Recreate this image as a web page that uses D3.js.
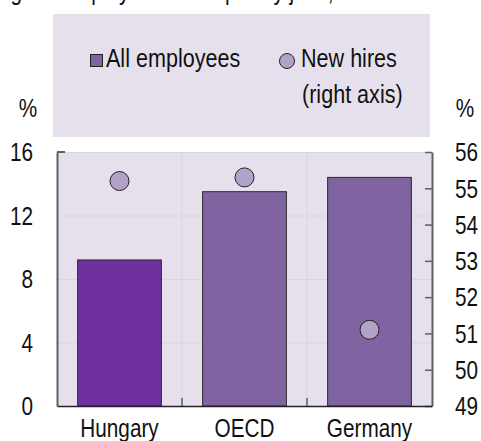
<!DOCTYPE html>
<html>
<head>
<meta charset="utf-8">
<script src="https://cdn.jsdelivr.net/npm/d3@7"></script>
<style>
  body { margin: 0; background: #fff; }
  svg text { font-family: "Liberation Sans", Arial, sans-serif; fill: #111; }
</style>
</head>
<body>
<div class="chart"></div>
<script>
(function () {

	"use strict";

	// data
	var countries 		= [ "Hungary", "OECD", "Germany" ];
	var all_employees 	= [ 9.2, 13.5, 14.4 ];
	var new_hires 		= [ 55.2, 55.3, 51.1 ];
	var left_ticks 		= [ 0, 4, 8, 12, 16 ];
	var right_ticks 	= [ 49, 50, 51, 52, 53, 54, 55, 56 ];

	// colors
	var bg_color 		= "#e6e0ec";
	var grid_color 		= "#d9d4de";
	var bar_color 		= "#8064a2";
	var focus_color 	= "#7030a0";
	var dot_color 		= "#b3a2c7";
	var axis_color 		= "#5f5f5f";

	var font_size 		= 25;
	var squeeze 		= 0.83;	// fake a narrow face

	var margin = { "top": 152, "right": 49, "bottom": 35, "left": 57 },
		width = 481 - margin.left - margin.right,
		height = 441 - margin.top - margin.bottom;

	var svg = d3.select(".chart").append("svg")
		.attr("width", 481)
		.attr("height", 441);

	// title, cut off at the top of the picture
	svg.append("text")
		.attr("x", 240)
		.attr("y", 0)
		.attr("text-anchor", "middle")
		.text("Percentage of employees in temporary jobs, all and new hires, 2014");

	// legend box
	var legend = svg.append("g");

	legend.append("rect")
		.attr("x", 53).attr("y", 14)
		.attr("width", 377).attr("height", 123)
		.attr("fill", bg_color);

	legend.append("rect")
		.attr("x", 90.5).attr("y", 54.5)
		.attr("width", 12).attr("height", 12)
		.attr("fill", bar_color)
		.attr("stroke", "#222").attr("stroke-width", 1);

	legend.append("text")
		.attr("class", "legend-text")
		.attr("x", 106).attr("y", 67)
		.text("All employees");

	legend.append("circle")
		.attr("cx", 287).attr("cy", 61).attr("r", 7.5)
		.attr("fill", dot_color)
		.attr("stroke", "#222").attr("stroke-width", 1);

	legend.append("text")
		.attr("class", "legend-text")
		.attr("x", 301).attr("y", 67)
		.text("New hires");

	legend.append("text")
		.attr("class", "legend-text")
		.attr("x", 302).attr("y", 103)
		.text("(right axis)");

	// unit labels
	svg.append("text")
		.attr("x", 28).attr("y", 117)
		.attr("text-anchor", "middle")
		.text("%");

	svg.append("text")
		.attr("x", 465).attr("y", 117)
		.attr("text-anchor", "middle")
		.text("%");

	var g = svg.append("g")
		.attr("transform", "translate(" + margin.left + "," + margin.top + ")");

	// scales
	var x = d3.scaleBand()
		.domain(countries)
		.range([ 0, width ])
		.paddingInner(0.33)
		.paddingOuter(0.165);

	var y = d3.scaleLinear().domain([ 0, 16 ]).range([ height, 0 ]);
	var y2 = d3.scaleLinear().domain([ 49, 56 ]).range([ height, 0 ]);

	// plot background
	g.append("rect")
		.attr("width", width)
		.attr("height", height)
		.attr("fill", bg_color);

	// grid
	g.selectAll(".hgrid")
		.data(left_ticks.filter(function (d) { return d > 0; }))
		.enter().append("line")
		.attr("class", "hgrid")
		.attr("x1", 0).attr("x2", width)
		.attr("y1", function (d) { return y(d) + 0.5; })
		.attr("y2", function (d) { return y(d) + 0.5; })
		.attr("stroke", grid_color);

	var step = x.step();
	var sep = function (d) { return x(d) - x.paddingInner() * step / 2; };

	g.selectAll(".vgrid")
		.data(countries.slice(1))
		.enter().append("line")
		.attr("class", "vgrid")
		.attr("x1", sep).attr("x2", sep)
		.attr("y1", 0).attr("y2", height)
		.attr("stroke", grid_color);

	// bars
	g.selectAll(".bar")
		.data(countries)
		.enter().append("rect")
		.attr("class", "bar")
		.attr("x", function (d) { return x(d); })
		.attr("y", function (d, i) { return y(all_employees[i]); })
		.attr("width", x.bandwidth())
		.attr("height", function (d, i) { return height - y(all_employees[i]); })
		.attr("fill", function (d) { return d === "Hungary" ? focus_color : bar_color; })
		.attr("stroke", "#2a2a2a")
		.attr("stroke-width", 1);

	// dots
	g.selectAll(".dot")
		.data(countries)
		.enter().append("circle")
		.attr("class", "dot")
		.attr("cx", function (d) { return x(d) + x.bandwidth() / 2; })
		.attr("cy", function (d, i) { return y2(new_hires[i]); })
		.attr("r", 9.5)
		.attr("fill", dot_color)
		.attr("stroke", "#222")
		.attr("stroke-width", 1);

	// left axis
	var left_axis = g.append("g")
		.call(d3.axisLeft(y).tickValues(left_ticks).tickSize(0).tickPadding(24).tickFormat(d3.format("d")));
	left_axis.select(".domain").attr("stroke", axis_color).attr("stroke-width", 2);
	left_axis.selectAll("text").attr("dy", "0.35em");

	// top-left tick, inward
	g.append("line")
		.attr("x1", 0).attr("x2", 8)
		.attr("y1", y(16)).attr("y2", y(16))
		.attr("stroke", axis_color).attr("stroke-width", 2);

	// right axis
	var right_axis = g.append("g")
		.attr("transform", "translate(" + width + ",0)")
		.call(d3.axisRight(y2).tickValues(right_ticks).tickSizeInner(-7).tickSizeOuter(0).tickPadding(23).tickFormat(d3.format("d")));
	right_axis.select(".domain").attr("stroke", axis_color).attr("stroke-width", 2);
	right_axis.selectAll(".tick line").attr("stroke", axis_color).attr("stroke-width", 1.5);
	right_axis.selectAll("text").attr("dy", "0.35em");

	// bottom axis
	var bottom_axis = g.append("g")
		.attr("transform", "translate(0," + height + ")")
		.call(d3.axisBottom(x).tickSize(0).tickPadding(13));
	bottom_axis.select(".domain").attr("stroke", "#222").attr("stroke-width", 1.5);

	// category separators on the baseline
	g.selectAll(".xtick")
		.data(countries.slice(1))
		.enter().append("line")
		.attr("class", "xtick")
		.attr("x1", sep).attr("x2", sep)
		.attr("y1", height - 8).attr("y2", height)
		.attr("stroke", axis_color).attr("stroke-width", 1.5);

	// all text: squeezed horizontally, legend a touch larger
	svg.selectAll("text").each(function () {
		var t = d3.select(this);
		var tx = +t.attr("x") || 0;
		var size = t.classed("legend-text") ? font_size + 1 : font_size;
		t.style("font-size", size + "px")
			.attr("x", tx / squeeze)
			.attr("transform", "scale(" + squeeze + ",1)");
	});

})();
</script>
</body>
</html>
